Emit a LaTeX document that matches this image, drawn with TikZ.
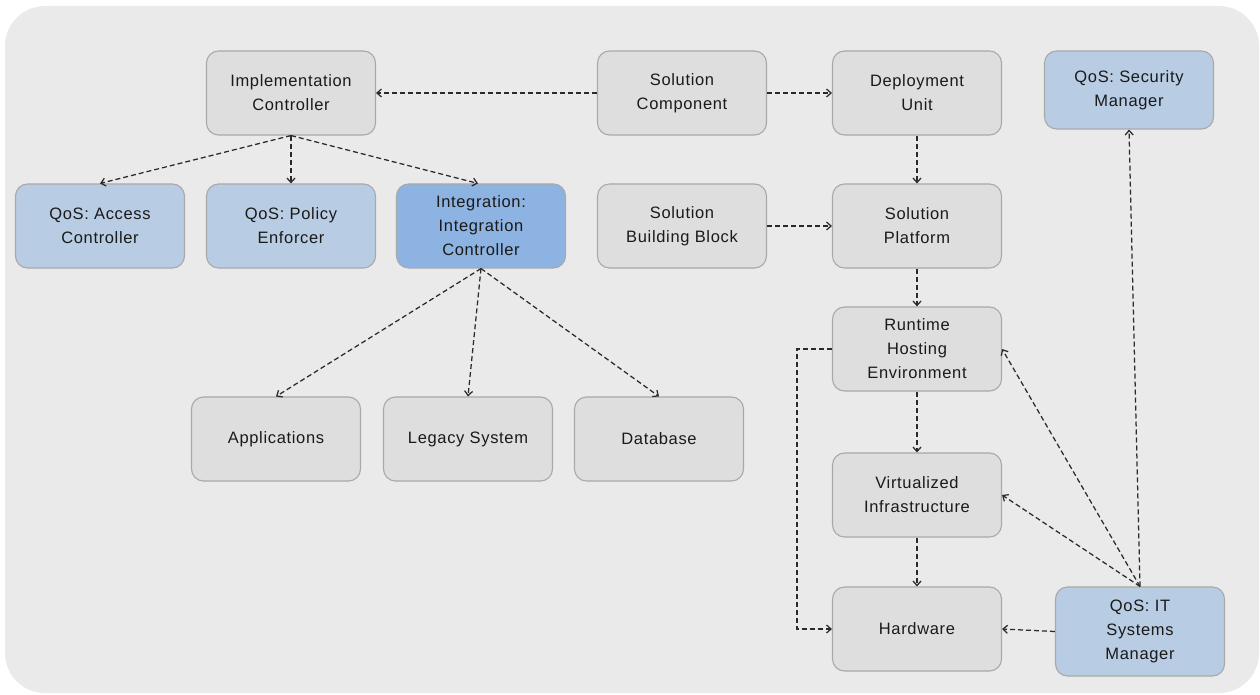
\documentclass[tikz,border=0pt]{standalone}
\usepackage{fontspec}
\setmainfont{Liberation Sans}[LetterSpace=4]
\usetikzlibrary{arrows.meta,positioning}
\definecolor{canvas}{HTML}{EAEAEA}
\definecolor{boxgray}{HTML}{DEDEDE}
\definecolor{boxedge}{HTML}{A9A9A9}
\definecolor{qosblue}{HTML}{B8CCE4}
\definecolor{intblue}{HTML}{8DB3E2}
\definecolor{ink}{HTML}{1A1A1A}
\definecolor{wire}{HTML}{2A2A2A}
\tikzset{
  x=1pt, y=-1pt,
  box/.style={draw=boxedge, line width=1.1pt, fill=boxgray, rounded corners=12pt,
    minimum width=169pt, minimum height=84pt, align=center, text=ink,
    font=\fontsize{16.5}{24}\selectfont, inner sep=0pt},
  qos/.style={box, fill=qosblue},
  integ/.style={box, fill=intblue},
  link/.style={draw=wire, line width=1.25pt, dash pattern=on 5pt off 3pt,
    -{Straight Barb[length=4.5pt,width=8pt]}}
}
\begin{document}
\begin{tikzpicture}
\useasboundingbox (0,0) rectangle (1260,695);
\fill[white] (0,0) rectangle (1260,695);
\fill[canvas, rounded corners=40pt] (5,6) rectangle (1259,693);

% upper row
\node[box] (impl) at (291,93) {Implementation\\Controller};
\node[box] (comp) at (682,93) {Solution\\Component};
\node[box] (unit) at (917,93) {Deployment\\Unit};
\node[qos, minimum height=78pt] (sec) at (1129,90) {QoS: Security\\Manager};

% second row
\node[qos] (acc) at (100,226) {QoS: Access\\Controller};
\node[qos] (pol) at (291,226) {QoS: Policy\\Enforcer};
\node[integ] (intc) at (481,226) {Integration:\\Integration\\Controller};
\node[box] (sbb) at (682,226) {Solution\\Building Block};
\node[box] (plat) at (917,226) {Solution\\Platform};

% integration targets
\node[box] (apps) at (276,439) {Applications};
\node[box] (leg) at (468,439) {Legacy System};
\node[box] (db) at (659,439) {Database};

% hosting stack
\node[box] (rhe) at (917,349) {Runtime\\Hosting\\Environment};
\node[box] (virt) at (917,495) {Virtualized\\Infrastructure};
\node[box] (hw) at (917,629) {Hardware};
\node[qos, minimum height=89pt] (itsm) at (1140,631.5) {QoS: IT\\Systems\\Manager};

% connectors
\draw[link] (comp.west) -- (impl.east);
\draw[link] (comp.east) -- (unit.west);
\draw[link] (impl.south) -- (acc.north);
\draw[link] (impl.south) -- (pol.north);
\draw[link] (impl.south) -- ([xshift=-3pt]intc.north);
\draw[link] (unit.south) -- (plat.north);
\draw[link] (sbb.east) -- (plat.west);
\draw[link] (plat.south) -- (rhe.north);
\draw[link] (intc.south) -- (apps.north);
\draw[link] (intc.south) -- (leg.north);
\draw[link] (intc.south) -- (db.north);
\draw[link] (rhe.south) -- (virt.north);
\draw[link] (virt.south) -- (hw.north);
\draw[link] (rhe.west) -| ++(-35,0) |- (hw.west);
\draw[link] (itsm.north) -- (rhe.east);
\draw[link] (itsm.north) -- (virt.east);
\draw[link] (itsm.north) -- (sec.south);
\draw[link] (itsm.west) -- (hw.east);
\end{tikzpicture}
\end{document}
